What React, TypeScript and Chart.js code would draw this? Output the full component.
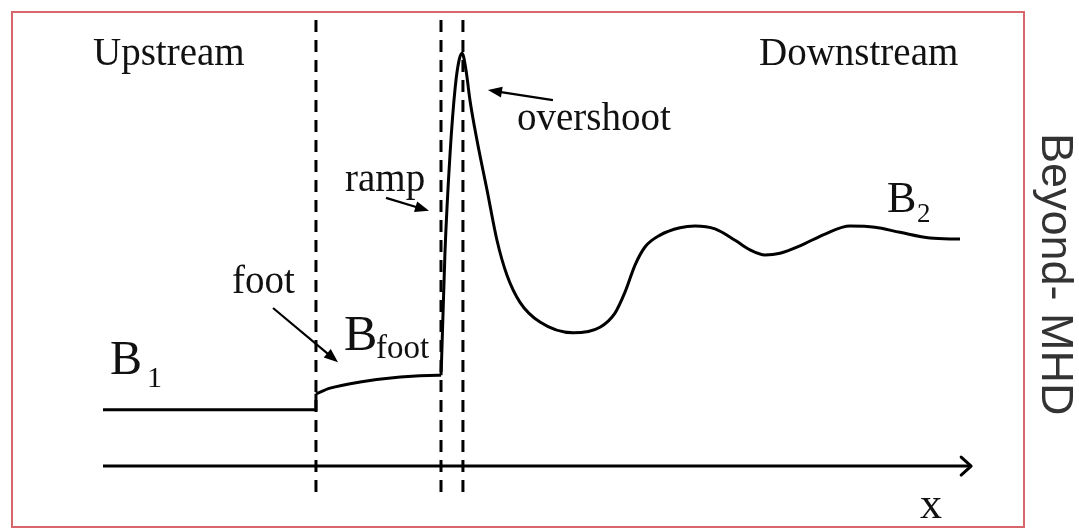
import React, { useEffect, useRef } from "react";
import { Chart, registerables } from "chart.js";

Chart.register(...registerables);

// Position along the shock normal (arbitrary units) and field strength B (B1 = 1)
const flatX = [0, 24.85, 24.85];
const flatB = [1.0, 1.0, 1.28];

const footX = [24.85, 26.5, 30.0, 34.7, 39.1, 39.44];
const footB = [1.28, 1.38, 1.49, 1.58, 1.61, 1.61];

const shockX = [
  39.44, 39.5, 39.9, 40.5, 41.1, 41.55, 41.9, 42.36, 42.82, 43.64, 44.81, 45.97,
  47.14, 48.66, 50.99, 54.84, 57.99, 59.74, 60.91, 62.08, 63.24, 65.0, 67.33,
  69.08, 71.41, 73.75, 75.5, 77.25, 79.0, 81.33, 84.25, 87.16, 90.08, 93.0,
  96.5, 100,
];
const shockB = [
  1.61, 1.84, 3.77, 5.54, 6.71, 7.19, 7.31, 7.01, 6.48, 5.77, 4.89, 4.0, 3.38,
  2.9, 2.55, 2.36, 2.46, 2.71, 3.08, 3.56, 3.88, 4.09, 4.22, 4.25, 4.2, 4.0,
  3.83, 3.74, 3.77, 3.9, 4.11, 4.25, 4.23, 4.14, 4.04, 4.02,
];

// Region boundaries (foot start, ramp start, overshoot peak)
const boundaryX = [24.85, 39.44, 42.0];

// x axis
const axisX = [0, 101.3];

// annotation arrows: [tailX, tailB, headX, headB]
const footArrow = [19.84, 2.8, 27.42, 1.84];
const rampArrow = [33.02, 4.75, 38.04, 4.52];
const overshootArrow = [52.5, 6.48, 44.92, 6.66];

const X_MIN = 0;
const X_MAX = 100;
const Y_MIN = -0.6;
const Y_MAX = 7.9;

const zip = (xs: number[], ys: number[]) => xs.map((x, i) => ({ x, y: ys[i] }));

const SERIF = '"Liberation Serif", "Times New Roman", serif';
const SANS = '"Liberation Sans", Arial, sans-serif';

export default function App() {
  const ref = useRef<HTMLCanvasElement | null>(null);

  useEffect(() => {
    document.body.style.margin = "0";
    const canvas = ref.current!;

    const drawHead = (
      ctx: CanvasRenderingContext2D,
      x1: number,
      y1: number,
      x2: number,
      y2: number
    ) => {
      const a = Math.atan2(y2 - y1, x2 - x1);
      const L = 14;
      const W = 5.5;
      ctx.beginPath();
      ctx.moveTo(x2, y2);
      ctx.lineTo(x2 - L * Math.cos(a) + W * Math.sin(a), y2 - L * Math.sin(a) - W * Math.cos(a));
      ctx.lineTo(x2 - L * Math.cos(a) - W * Math.sin(a), y2 - L * Math.sin(a) + W * Math.cos(a));
      ctx.closePath();
      ctx.fill();
    };

    const overlay = {
      id: "overlay",
      beforeDraw(chart: any) {
        const { ctx, width, height } = chart;
        ctx.save();
        ctx.fillStyle = "#ffffff";
        ctx.fillRect(0, 0, width, height);
        ctx.restore();
      },
      afterDraw(chart: any) {
        const ctx: CanvasRenderingContext2D = chart.ctx;
        const xs = chart.scales.x;
        const ys = chart.scales.y;
        const px = (v: number) => xs.getPixelForValue(v);
        const py = (v: number) => ys.getPixelForValue(v);
        ctx.save();

        // frame
        ctx.strokeStyle = "#d9666a";
        ctx.lineWidth = 2;
        ctx.strokeRect(12, 12, 1012, 515);

        // axis arrowhead (open chevron)
        const tx = px(axisX[1]);
        const ty = py(0);
        ctx.strokeStyle = "#000";
        ctx.lineWidth = 3;
        ctx.lineCap = "round";
        ctx.lineJoin = "round";
        ctx.beginPath();
        ctx.moveTo(tx - 10, ty - 9);
        ctx.lineTo(tx, ty);
        ctx.lineTo(tx - 10, ty + 9);
        ctx.stroke();

        // annotation arrows
        ctx.lineWidth = 2.2;
        ctx.lineCap = "butt";
        ctx.fillStyle = "#000";
        [footArrow, rampArrow, overshootArrow].forEach((a) => {
          const x1 = px(a[0]);
          const y1 = py(a[1]);
          const x2 = px(a[2]);
          const y2 = py(a[3]);
          const ang = Math.atan2(y2 - y1, x2 - x1);
          ctx.beginPath();
          ctx.moveTo(x1, y1);
          ctx.lineTo(x2 - 10 * Math.cos(ang), y2 - 10 * Math.sin(ang));
          ctx.stroke();
          drawHead(ctx, x1, y1, x2, y2);
        });

        // labels
        ctx.fillStyle = "#111";
        ctx.textBaseline = "alphabetic";
        ctx.textAlign = "left";
        ctx.font = `39px ${SERIF}`;
        ctx.fillText("Upstream", 93, 65);
        ctx.fillText("Downstream", 759, 65);
        ctx.fillText("ramp", 345, 191);
        ctx.fillText("foot", 232, 293);
        ctx.fillText("overshoot", 517, 130);
        ctx.font = `44px ${SERIF}`;
        ctx.fillText("x", 920, 518);

        ctx.font = `48px ${SERIF}`;
        ctx.fillText("B", 110, 374);
        ctx.font = `30px ${SERIF}`;
        ctx.fillText("1", 147, 387);

        ctx.font = `50px ${SERIF}`;
        ctx.fillText("B", 344, 350);
        ctx.font = `33px ${SERIF}`;
        ctx.fillText("foot", 376, 358);

        ctx.font = `44px ${SERIF}`;
        ctx.fillText("B", 887, 212);
        ctx.font = `27px ${SERIF}`;
        ctx.fillText("2", 917, 222);

        // side label
        ctx.save();
        ctx.translate(1042, 133);
        ctx.rotate(Math.PI / 2);
        ctx.font = `45px ${SANS}`;
        ctx.fillStyle = "#333";
        ctx.fillText("Beyond- MHD", 0, 0);
        ctx.restore();

        ctx.restore();
      },
    };

    const lineStyle = {
      borderColor: "#000",
      borderWidth: 3,
      pointRadius: 0,
      fill: false,
      clip: false as any,
    };

    const datasets: any[] = [
      { ...lineStyle, data: zip(flatX, flatB), tension: 0 },
      { ...lineStyle, data: zip(footX, footB), cubicInterpolationMode: "monotone" },
      { ...lineStyle, data: zip(shockX, shockB), cubicInterpolationMode: "monotone" },
      { ...lineStyle, data: zip(axisX, [0, 0]), tension: 0 },
      ...boundaryX.map((b) => ({
        ...lineStyle,
        data: [
          { x: b, y: Y_MAX },
          { x: b, y: Y_MIN },
        ],
        borderDash: [12, 8],
        borderCapStyle: "butt",
        tension: 0,
      })),
    ];

    const chart = new Chart(canvas, {
      type: "line",
      data: { datasets },
      options: {
        responsive: false,
        animation: false,
        devicePixelRatio: 1,
        layout: { padding: { left: 103, right: 119, top: 20, bottom: 29 } },
        scales: {
          x: { type: "linear", min: X_MIN, max: X_MAX, display: false },
          y: { type: "linear", min: Y_MIN, max: Y_MAX, display: false },
        },
        plugins: { legend: { display: false }, tooltip: { enabled: false } },
        elements: { point: { radius: 0 } },
      },
      plugins: [overlay],
    });

    return () => chart.destroy();
  }, []);

  return (
    <div style={{ width: 1079, height: 529 }}>
      <canvas
        ref={ref}
        width={1079}
        height={529}
        style={{ display: "block", width: 1079, height: 529 }}
      />
    </div>
  );
}
